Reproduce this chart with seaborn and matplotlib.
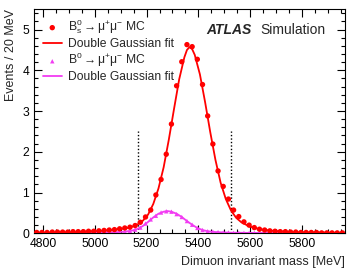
import pandas as pd
import seaborn as sns
import matplotlib.pyplot as plt
from matplotlib.ticker import MultipleLocator

# bin centres of the 20 MeV histogram
mass_bins = [4776, 4796, 4816, 4836, 4856, 4876, 4896, 4916, 4936, 4956,
             4976, 4996, 5016, 5036, 5056, 5076, 5096, 5116, 5136, 5156,
             5176, 5196, 5216, 5236, 5256, 5276, 5296, 5316, 5336, 5356,
             5376, 5396, 5416, 5436, 5456, 5476, 5496, 5516, 5536, 5556,
             5576, 5596, 5616, 5636, 5656, 5676, 5696, 5716, 5736, 5756,
             5776, 5796, 5816, 5836, 5856, 5876, 5896, 5916, 5936, 5956]

bs_mc = [0.02, 0.02, 0.02, 0.03, 0.03, 0.03, 0.03, 0.04, 0.04, 0.04,
         0.05, 0.05, 0.06, 0.07, 0.08, 0.09, 0.11, 0.13, 0.15, 0.19,
         0.27, 0.40, 0.57, 0.94, 1.32, 1.94, 2.68, 3.62, 4.21, 4.63,
         4.58, 4.27, 3.65, 2.88, 2.19, 1.53, 1.15, 0.84, 0.57, 0.41,
         0.28, 0.20, 0.14, 0.10, 0.08, 0.06, 0.05, 0.04, 0.04, 0.03,
         0.03, 0.02, 0.02, 0.02, 0.02, 0.01, 0.01, 0.01, 0.01, 0.01]

bd_mc = [0.01, 0.01, 0.01, 0.01, 0.01, 0.01, 0.01, 0.01, 0.01, 0.01,
         0.01, 0.01, 0.01, 0.015, 0.02, 0.02, 0.03, 0.04, 0.06, 0.09,
         0.14, 0.24, 0.34, 0.43, 0.51, 0.54, 0.53, 0.47, 0.40, 0.30,
         0.21, 0.13, 0.08, 0.05, 0.04, 0.03, 0.02, 0.02, 0.01, 0.01,
         0.01, 0.01, 0.01, 0.01, 0.01, 0.01, 0.01, 0.01, 0.01, 0.01,
         0.01, 0.01, 0.01, 0.01, 0.01, 0.01, 0.01, 0.01, 0.01, 0.01]

# double Gaussian fit curves
bs_fit_mass = [4766, 4866, 4966, 5026, 5066, 5106, 5136, 5166, 5186, 5206,
               5226, 5246, 5266, 5286, 5306, 5326, 5346, 5356, 5366, 5376,
               5386, 5406, 5426, 5446, 5466, 5486, 5506, 5526, 5546, 5566,
               5596, 5636, 5686, 5766, 5866, 5966]
bs_fit = [0.01, 0.02, 0.04, 0.06, 0.08, 0.11, 0.14, 0.22, 0.31, 0.46,
          0.72, 1.10, 1.62, 2.30, 3.05, 3.78, 4.32, 4.50, 4.57, 4.52,
          4.38, 3.90, 3.22, 2.48, 1.80, 1.24, 0.84, 0.56, 0.38, 0.27,
          0.17, 0.10, 0.06, 0.03, 0.02, 0.01]

bd_fit_mass = [4766, 4966, 5066, 5116, 5146, 5166, 5186, 5206, 5226, 5246,
               5266, 5281, 5296, 5316, 5336, 5356, 5376, 5396, 5416, 5436,
               5466, 5516, 5616, 5966]
bd_fit = [0.005, 0.01, 0.02, 0.04, 0.07, 0.11, 0.18, 0.28, 0.39, 0.48,
          0.53, 0.545, 0.53, 0.48, 0.40, 0.30, 0.21, 0.13, 0.08, 0.05,
          0.03, 0.015, 0.008, 0.004]

signal_window = [5166, 5526]

red = '#ff0000'
magenta = '#f23cf2'

sns.set_style('ticks')
plt.rcParams['font.family'] = ['Liberation Sans', 'DejaVu Sans']
plt.rcParams['mathtext.fontset'] = 'custom'
plt.rcParams['mathtext.rm'] = 'Liberation Sans'
plt.rcParams['mathtext.it'] = 'Liberation Sans:italic'

hist = pd.DataFrame({'mass': mass_bins, 'bs': bs_mc, 'bd': bd_mc})
bs_curve = pd.DataFrame({'mass': bs_fit_mass, 'val': bs_fit})
bd_curve = pd.DataFrame({'mass': bd_fit_mass, 'val': bd_fit})

fig = plt.figure(figsize=(3.52, 2.70), dpi=100)
ax = fig.add_axes([0.097, 0.136, 0.883, 0.830])

ax.vlines(signal_window, 0, 2.5, colors='black', linestyles=(0, (1, 1.5)), linewidth=1.0)

sns.lineplot(data=bd_curve, x='mass', y='val', color=magenta, linewidth=1.3, ax=ax,
             label='Double Gaussian fit bd')
sns.scatterplot(data=hist, x='mass', y='bd', color=magenta, marker='^', s=10,
                edgecolor='none', ax=ax, label='bd mc', zorder=3)
sns.lineplot(data=bs_curve, x='mass', y='val', color=red, linewidth=1.3, ax=ax,
             label='Double Gaussian fit bs')
sns.scatterplot(data=hist, x='mass', y='bs', color=red, marker='o', s=15,
                edgecolor='none', ax=ax, label='bs mc', zorder=4)

ax.set_xlim(4766, 5966)
ax.set_ylim(0, 5.5)
ax.xaxis.set_major_locator(MultipleLocator(200))
ax.xaxis.set_minor_locator(MultipleLocator(50))
ax.yaxis.set_major_locator(MultipleLocator(1))
ax.yaxis.set_minor_locator(MultipleLocator(0.2))
ax.tick_params(which='both', direction='in', top=True, right=True,
               labelsize=8.7, colors='black', width=0.8)
ax.tick_params(which='major', length=6)
ax.tick_params(which='minor', length=3)
for s in ax.spines.values():
    s.set_linewidth(0.8)
    s.set_color('black')

ax.set_xlabel('Dimuon invariant mass [MeV]', fontsize=9, loc='right')
ax.set_ylabel('Events / 20 MeV', fontsize=9, loc='top')

handles, labels = ax.get_legend_handles_labels()
lookup = dict(zip(labels, handles))
order = ['bs mc', 'Double Gaussian fit bs', 'bd mc', 'Double Gaussian fit bd']
names = [r'$\mathregular{B^0_s \rightarrow \mu^{+}\mu^{-}}$ MC', 'Double Gaussian fit',
         r'$\mathregular{B^0 \rightarrow \mu^{+}\mu^{-}}$ MC', 'Double Gaussian fit']
ax.legend([lookup[k] for k in order], names, loc='upper left', frameon=False,
          fontsize=8.7, handlelength=1.6, handletextpad=0.5, labelspacing=0.12,
          borderaxespad=0.3, bbox_to_anchor=(0.0, 1.0))

ax.text(0.555, 0.905, 'ATLAS', transform=ax.transAxes, fontsize=10,
        fontweight='bold', fontstyle='italic', va='center')
ax.text(0.727, 0.905, 'Simulation', transform=ax.transAxes, fontsize=10, va='center')

fig.savefig('out.png', dpi=100)
